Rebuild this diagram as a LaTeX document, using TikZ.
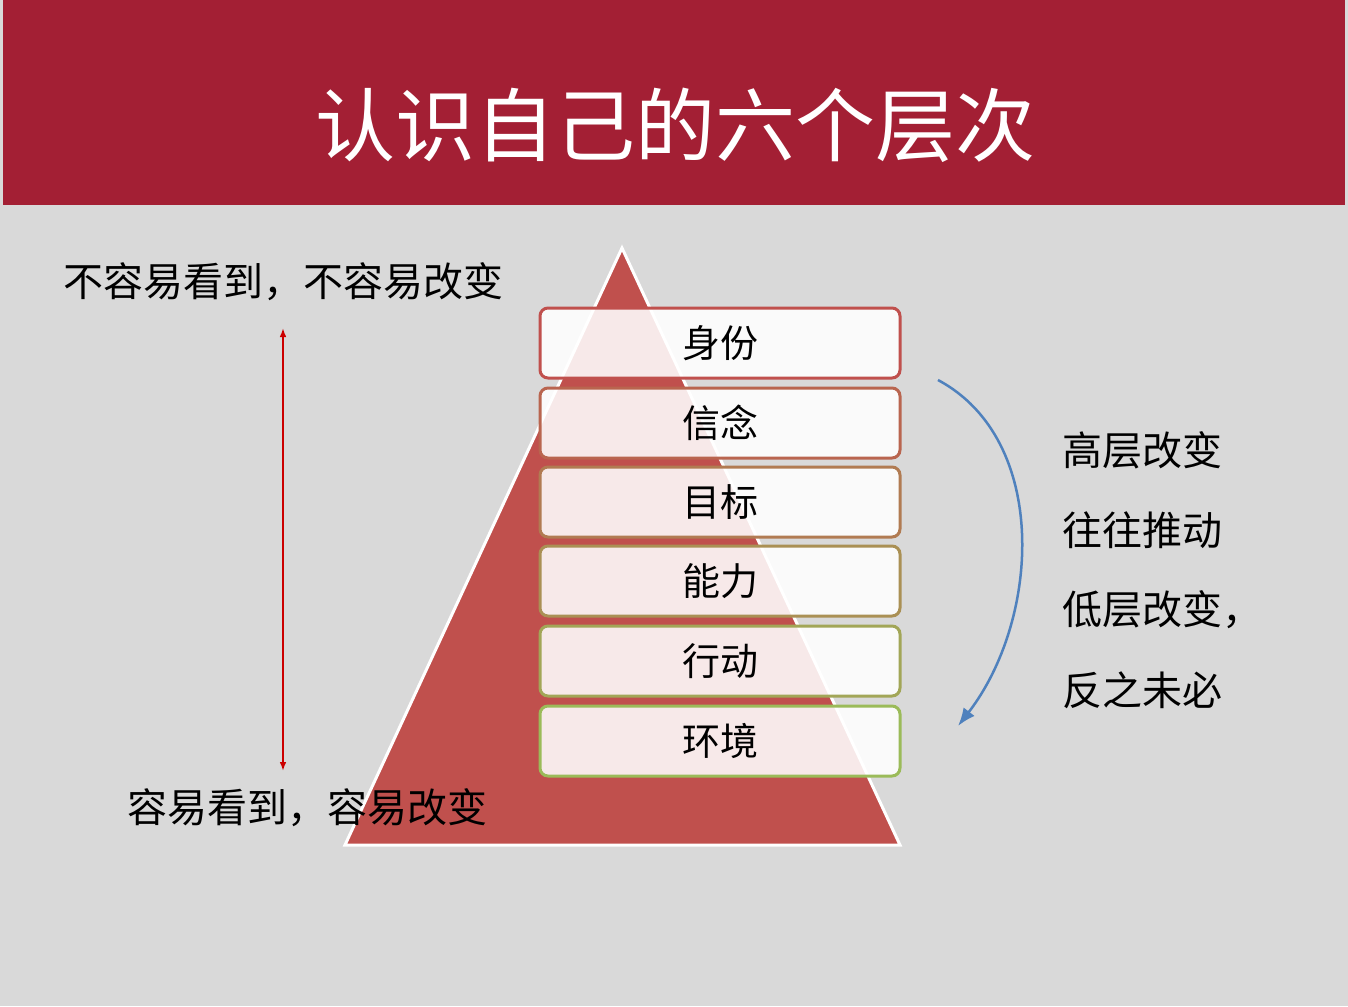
\documentclass[tikz,border=0pt]{standalone}
\usepackage{fontspec}
\setmainfont{Noto Sans CJK SC}
\usetikzlibrary{arrows.meta}
\definecolor{hdr}{HTML}{A31F34}
\definecolor{bg}{HTML}{D9D9D9}
\definecolor{tri}{HTML}{C0504D}
\definecolor{grn}{HTML}{9BBB59}
\definecolor{blu}{HTML}{4F81BD}
\tikzset{lvl/.style={draw=#1, line width=3pt, rounded corners=8pt, fill=white, fill opacity=0.88, text opacity=1, minimum width=360pt, minimum height=70pt, font=\fontsize{38pt}{40pt}\selectfont, inner sep=0pt},
 lbl/.style={font=\fontsize{40pt}{44pt}\selectfont, anchor=west, inner sep=0pt}}
\begin{document}
\begin{tikzpicture}[x=1pt,y=-1pt]
\useasboundingbox (0,0) rectangle (1348,1006);
\fill[bg] (0,0) rectangle (1348,1006);
\fill[hdr] (3,0) rectangle (1345,205);
\node[text=white, font=\fontsize{80pt}{84pt}\selectfont] (title) at (675,125) {认识自己的六个层次};
\filldraw[fill=tri, draw=white, line width=3pt] (622,248) -- (900,845) -- (345,845) -- cycle;
\node[lvl=tri] (b1) at (720,343) {身份};
\node[lvl=tri!80!grn] (b2) at (720,423) {信念};
\node[lvl=tri!60!grn] (b3) at (720,502) {目标};
\node[lvl=tri!40!grn] (b4) at (720,581) {能力};
\node[lvl=tri!20!grn] (b5) at (720,661) {行动};
\node[lvl=grn] (b6) at (720,741) {环境};
\node[lbl] (top) at (63,282) {不容易看到，不容易改变};
\node[lbl] (bot) at (127,808) {容易看到，容易改变};
\coordinate (a1) at (283,328); \coordinate (a2) at (283,771);
\draw[{Latex[length=9pt]}-{Latex[length=9pt]}, color=red!80!black, line width=2.5pt] (a1) -- (a2);
\coordinate (c1) at (938,380); \coordinate (c2) at (958,726);
\draw[-{Latex[length=18pt,width=14pt]}, blu, line width=2.5pt] (c1) .. controls (1050,440) and (1040,620) .. (c2);
\node[lbl] (r1) at (1062,450) {高层改变};
\node[lbl] (r2) at (1062,530) {往往推动};
\node[lbl] (r3) at (1062,610) {低层改变，};
\node[lbl] (r4) at (1062,690) {反之未必};
\end{tikzpicture}
\end{document}
